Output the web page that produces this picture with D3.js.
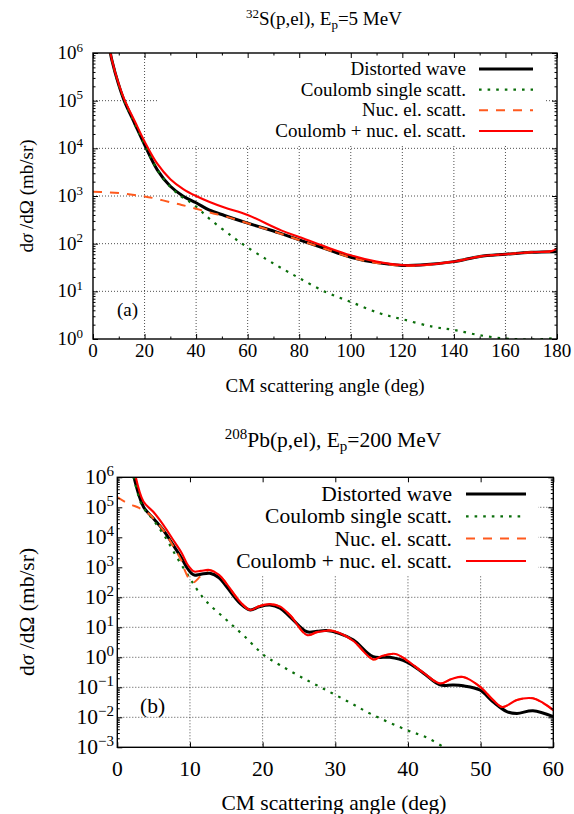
<!DOCTYPE html>
<html><head><meta charset="utf-8">
<script src="https://cdn.jsdelivr.net/npm/d3@7"></script>
<style>
body{margin:0;background:#fff}
svg{display:block}
</style>
</head><body>
<svg id="c" width="574" height="814"></svg>
<script>
// ---------------- DATA ----------------
const seriesNames = ["Distorted wave","Coulomb single scatt.","Nuc. el. scatt.","Coulomb + nuc. el. scatt."];

// Panel (a): 32S(p,el), Ep = 5 MeV  (angle in deg, cross section in mb/sr)
const aDWAngle  = [6, 7.4, 9.8, 12.1, 16.3, 20.3, 25, 30, 35, 40, 45, 51, 60, 72.5, 80, 90, 100, 110, 120, 127, 140, 150, 160, 170, 180];
const aDWValue  = [1.6e6, 6.8e5, 2.3e5, 1.0e5, 3.2e4, 1.1e4, 3.5e3, 1.6e3, 990, 720, 510, 390, 270, 166, 120, 79, 52, 40, 35, 35.5, 42, 54, 60, 66, 68];
const aCoulAngle = [6, 7.4, 9.8, 12.1, 16.3, 20.3, 25, 30, 34, 37, 40, 45, 54, 60, 67, 72.5, 80, 90, 100, 111, 120, 132, 140, 150, 160, 165, 170, 175, 180];
const aCoulValue = [1.6e6, 6.8e5, 2.3e5, 1.0e5, 3.2e4, 1.1e4, 3.5e3, 1.55e3, 1.0e3, 790, 600, 340, 141, 83, 48, 32, 19, 9.8, 6.0, 3.5, 2.6, 1.8, 1.55, 1.2, 1.02, 0.99, 0.97, 1.0, 1.05];
const aNucAngle = [0, 5, 10, 16, 20, 24, 30, 34.4, 40, 46, 52, 60, 72.5, 80, 90, 100, 110, 120, 127, 140, 150, 160, 170, 180];
const aNucValue = [1230, 1200, 1150, 1050, 980, 890, 740, 650, 540, 440, 365, 268, 164, 119, 78, 51, 39.5, 34.5, 35, 42, 54, 60, 66, 68];
const aSumAngle = [6, 7.4, 9.8, 12.1, 16.3, 20.3, 25, 30, 35, 40, 45, 51, 60, 73, 80, 90, 100, 110, 120, 127, 140, 150, 160, 170, 178, 180];
const aSumValue = [1.6e6, 7.0e5, 2.4e5, 1.08e5, 3.6e4, 1.3e4, 4.7e3, 2.25e3, 1.4e3, 1.0e3, 760, 575, 400, 190, 138, 87, 57, 42, 35.5, 35.5, 42, 54, 60, 66, 70, 80];

// Panel (b): 208Pb(p,el), Ep = 200 MeV
const bDWAngle = [2.0, 3.6, 4.95, 6.33, 7.7, 8.86, 9.64, 10.2, 10.6, 11.5, 12.75, 14, 15.05, 16.9, 18.3, 19.5, 21, 22.4, 23.8, 26.1, 27.5, 28.8, 30.5, 32.5, 35.2, 37.5, 39.8, 42.1, 44.4, 46.2, 47.6, 49.9, 51.7, 53.6, 55, 57.2, 60];
const bDWValue = [2.0e6, 1.05e5, 4.3e4, 1.74e4, 5.5e3, 2.0e3, 930, 630, 550, 590, 630, 450, 224, 63, 38, 48, 55, 43, 22, 7.1, 7.4, 7.8, 6.3, 3.8, 1.05, 1.0, 0.71, 0.30, 0.12, 0.12, 0.112, 0.081, 0.033, 0.0155, 0.0135, 0.0166, 0.0105];
const bCoulAngle = [2.0, 3.36, 4.95, 6.56, 8.17, 10, 11, 12.3, 15, 17.5, 20.3, 22.4, 25, 28, 31.6, 35, 39.8, 42.6, 45, 46];
const bCoulValue = [2.0e6, 1.2e5, 3.8e4, 1.05e4, 2.2e3, 430, 178, 71, 17.8, 5.0, 1.12, 0.55, 0.24, 0.1, 0.035, 0.0126, 0.0038, 0.0021, 0.001, 0.0008];
const bNucAngle = [0, 1, 2, 3, 4.5, 4.95, 6.33, 7.7, 8.86, 9.2, 10, 10.5, 11.4, 12.2, 12.7, 14, 15.05, 16.9, 18.3, 19.5, 21, 22.4, 23.8, 26.1, 27.5, 29.3, 30.5, 32.5, 35.2, 36.5, 38.3, 39.8, 42.1, 44.4, 46, 47.6, 49.9, 51.7, 53, 55, 57.2, 58.6, 60];
const bNucValue = [2.2e5, 1.55e5, 1.2e5, 9.5e4, 5.7e4, 4.3e4, 1.74e4, 5.0e3, 1.6e3, 890, 370, 316, 490, 720, 810, 560, 280, 71, 38, 50, 59, 49, 25, 5.5, 6.9, 7.8, 6.6, 3.5, 0.85, 1.12, 1.29, 0.81, 0.31, 0.135, 0.19, 0.22, 0.105, 0.038, 0.022, 0.038, 0.043, 0.030, 0.0174];
const bSumAngle = [2.2, 3.6, 4.95, 6.33, 7.7, 8.86, 9.64, 10.2, 10.6, 11.5, 12.7, 14, 15.05, 16.9, 18.3, 19.5, 21, 22.4, 23.8, 26.1, 27.5, 29.3, 30.5, 32.5, 35.2, 36.5, 38.3, 39.8, 42.1, 44.4, 46, 47.6, 49.9, 51.7, 53, 55, 57.2, 58.6, 60];
const bSumValue = [2.5e6, 1.55e5, 7.1e4, 2.6e4, 8.1e3, 3.0e3, 1.26e3, 850, 720, 760, 810, 560, 280, 71, 38, 50, 59, 49, 25, 5.5, 6.9, 7.8, 6.6, 3.5, 0.85, 1.12, 1.29, 0.81, 0.31, 0.135, 0.19, 0.22, 0.105, 0.038, 0.022, 0.038, 0.043, 0.030, 0.0174];

// tick labels
const aXTicks = [0, 20, 40, 60, 80, 100, 120, 140, 160, 180];
const aXMinor = [10, 30, 50, 70, 90, 110, 130, 150, 170];
const aYExps  = [0, 1, 2, 3, 4, 5, 6];
const bXTicks = [0, 10, 20, 30, 40, 50, 60];
const bYExps  = [-3, -2, -1, 0, 1, 2, 3, 4, 5, 6];

// ---------------- STYLE / LAYOUT ----------------
const FONT = "'Liberation Serif', 'DejaVu Serif', 'Times New Roman', serif";
const styles = [
  {color:"#000000", width:3,   dash:null},
  {color:"#0a6e0a", width:2.2, dash:"2.6,6"},
  {color:"#ff5a1e", width:2,   dash:"9,8"},
  {color:"#ff0000", width:2.1, dash:null}
];

const panels = [
  {
    left:93, right:557, top:53, bottom:339, xDomain:[0,180], yExps:aYExps,
    xTicks:aXTicks, xMinor:aXMinor, font:19, supFont:13, supDy:-7.5,
    xTickBase:357, yTickRight:83, yTickDy:6,
    series:[[aDWAngle,aDWValue],[aCoulAngle,aCoulValue],[aNucAngle,aNucValue],[aSumAngle,aSumValue]],
    key:{x:159, y:53, w:387, h:92, textRight:466, s1:479, s2:533, rows:[69, 89.7, 110.3, 131], dy:6},
    title:{x:324, y:25, parts:[["32","sup"],["S(p,el), E",""],["p","sub"],["=5 MeV",""]]},
    xLabel:{x:325, y:392}, yLabel:{x:33, y:196}, tag:{text:"(a)", x:117, y:316}
  },
  {
    left:117.3, right:553.3, top:477.3, bottom:747.3, xDomain:[0,60], yExps:bYExps,
    xTicks:bXTicks, xMinor:[], font:21.5, supFont:15, supDy:-8.5,
    xTickBase:776, yTickRight:114, yTickDy:7,
    series:[[bDWAngle,bDWValue],[bCoulAngle,bCoulValue],[bNucAngle,bNucValue],[bSumAngle,bSumValue]],
    key:{x:117.3, y:477.3, w:420.7, h:97.7, textRight:452, s1:466, s2:526, rows:[494, 516.3, 538.6, 561], dy:7},
    title:{x:333, y:447, parts:[["208","sup"],["Pb(p,el), E",""],["p","sub"],["=200 MeV",""]]},
    xLabel:{x:334, y:810}, yLabel:{x:34, y:612}, tag:{text:"(b)", x:140, y:713}
  }
];

const svg = d3.select("#c").attr("font-family", FONT);

panels.forEach((P, pi) => {
  const g = svg.append("g");
  const x = d3.scaleLinear().domain(P.xDomain).range([P.left, P.right]);
  const yMin = Math.pow(10, d3.min(P.yExps)), yMax = Math.pow(10, d3.max(P.yExps));
  const y = d3.scaleLog().domain([yMin, yMax]).range([P.bottom, P.top]);

  // grid
  const gridX = P.xTicks.slice(1, -1);
  const gridY = P.yExps.slice(1, -1).map(e => Math.pow(10, e));
  g.append("g").selectAll("line").data(gridX).join("line")
    .attr("x1", d => x(d)).attr("x2", d => x(d)).attr("y1", P.top).attr("y2", P.bottom)
    .attr("stroke", "#222").attr("stroke-width", 0.8).attr("stroke-dasharray", "1,2");
  g.append("g").selectAll("line").data(gridY).join("line")
    .attr("y1", d => y(d)).attr("y2", d => y(d)).attr("x1", P.left).attr("x2", P.right)
    .attr("stroke", "#222").attr("stroke-width", 0.8).attr("stroke-dasharray", "1,2");

  // opaque key area
  g.append("rect").attr("x", P.key.x).attr("y", P.key.y).attr("width", P.key.w).attr("height", P.key.h).attr("fill", "#fff");

  // clip
  const cid = "clip" + pi;
  svg.append("clipPath").attr("id", cid).append("rect")
    .attr("x", P.left).attr("y", P.top).attr("width", P.right - P.left).attr("height", P.bottom - P.top);

  const line = d3.line().x(d => x(d[0])).y(d => y(d[1])).curve(d3.curveCatmullRom.alpha(0.5));
  const cg = g.append("g").attr("clip-path", `url(#${cid})`);
  P.series.forEach((s, i) => {
    const pts = s[0].map((a, k) => [a, s[1][k]]);
    const st = styles[i];
    cg.append("path").attr("d", line(pts)).attr("fill", "none")
      .attr("stroke", st.color).attr("stroke-width", st.width)
      .attr("stroke-dasharray", st.dash).attr("stroke-linejoin", "round");
  });

  // axes ticks (inward, mirrored)
  const yMajor = P.yExps.map(e => Math.pow(10, e));
  const yMinorT = [];
  P.yExps.slice(0, -1).forEach(e => { for (let m = 2; m <= 9; m++) yMinorT.push(m * Math.pow(10, e)); });
  const tickStyle = sel => { sel.select(".domain").remove(); sel.selectAll("line").attr("stroke", "#000").attr("stroke-width", 1); sel.selectAll("text").remove(); };
  g.append("g").attr("transform", `translate(0,${P.bottom})`).call(d3.axisBottom(x).tickValues(P.xTicks).tickSize(-5)).call(tickStyle);
  g.append("g").attr("transform", `translate(0,${P.top})`).call(d3.axisTop(x).tickValues(P.xTicks).tickSize(-5)).call(tickStyle);
  if (P.xMinor.length) {
    g.append("g").attr("transform", `translate(0,${P.bottom})`).call(d3.axisBottom(x).tickValues(P.xMinor).tickSize(-2.5)).call(tickStyle);
    g.append("g").attr("transform", `translate(0,${P.top})`).call(d3.axisTop(x).tickValues(P.xMinor).tickSize(-2.5)).call(tickStyle);
  }
  g.append("g").attr("transform", `translate(${P.left},0)`).call(d3.axisLeft(y).tickValues(yMajor).tickSize(-5)).call(tickStyle);
  g.append("g").attr("transform", `translate(${P.right},0)`).call(d3.axisRight(y).tickValues(yMajor).tickSize(-5)).call(tickStyle);
  g.append("g").attr("transform", `translate(${P.left},0)`).call(d3.axisLeft(y).tickValues(yMinorT).tickSize(-2.5)).call(tickStyle);
  g.append("g").attr("transform", `translate(${P.right},0)`).call(d3.axisRight(y).tickValues(yMinorT).tickSize(-2.5)).call(tickStyle);

  // border
  g.append("rect").attr("x", P.left).attr("y", P.top).attr("width", P.right - P.left).attr("height", P.bottom - P.top)
    .attr("fill", "none").attr("stroke", "#000").attr("stroke-width", 1.4);

  const T = (sel) => sel.attr("font-family", FONT).attr("fill", "#000");

  // x tick labels
  g.append("g").selectAll("text").data(P.xTicks).join("text").call(T)
    .attr("x", d => x(d)).attr("y", P.xTickBase).attr("text-anchor", "middle")
    .attr("font-size", P.font).text(d => d);

  // y tick labels 10^n
  P.yExps.forEach(e => {
    const t = g.append("text").call(T).attr("x", P.yTickRight).attr("y", y(Math.pow(10, e)) + P.yTickDy)
      .attr("text-anchor", "end").attr("font-size", P.font);
    t.append("tspan").text("10");
    t.append("tspan").attr("dy", P.supDy).attr("font-size", P.supFont).text(e < 0 ? "\u2212" + (-e) : e);
  });

  // title
  const tt = g.append("text").call(T).attr("x", P.title.x).attr("y", P.title.y).attr("text-anchor", "middle").attr("font-size", P.font);
  let cur = 0;
  P.title.parts.forEach(([txt, kind]) => {
    const target = kind === "sup" ? P.supDy : kind === "sub" ? 4 : 0;
    const ts = tt.append("tspan").attr("dy", target - cur).text(txt);
    if (kind) ts.attr("font-size", P.supFont);
    cur = target;
  });

  // axis labels
  g.append("text").call(T).attr("x", P.xLabel.x).attr("y", P.xLabel.y).attr("text-anchor", "middle")
    .attr("font-size", P.font).text("CM scattering angle (deg)");
  const yl = g.append("text").call(T).attr("transform", `translate(${P.yLabel.x},${P.yLabel.y}) rotate(-90)`)
    .attr("text-anchor", "middle").attr("font-size", P.font);
  yl.append("tspan").text("d");
  yl.append("tspan").attr("font-style", "italic").text("σ");
  yl.append("tspan").text(" /dΩ (mb/sr)");

  // tag
  g.append("text").call(T).attr("x", P.tag.x).attr("y", P.tag.y).attr("font-size", P.font).text(P.tag.text);

  // legend
  seriesNames.forEach((name, i) => {
    const ry = P.key.rows[i];
    g.append("text").call(T).attr("x", P.key.textRight).attr("y", ry + P.key.dy).attr("text-anchor", "end")
      .attr("font-size", P.font).text(name);
    const st = styles[i];
    g.append("line").attr("x1", P.key.s1).attr("x2", P.key.s2).attr("y1", ry).attr("y2", ry)
      .attr("stroke", st.color).attr("stroke-width", st.width).attr("stroke-dasharray", st.dash);
  });
});
</script>
</body></html>
